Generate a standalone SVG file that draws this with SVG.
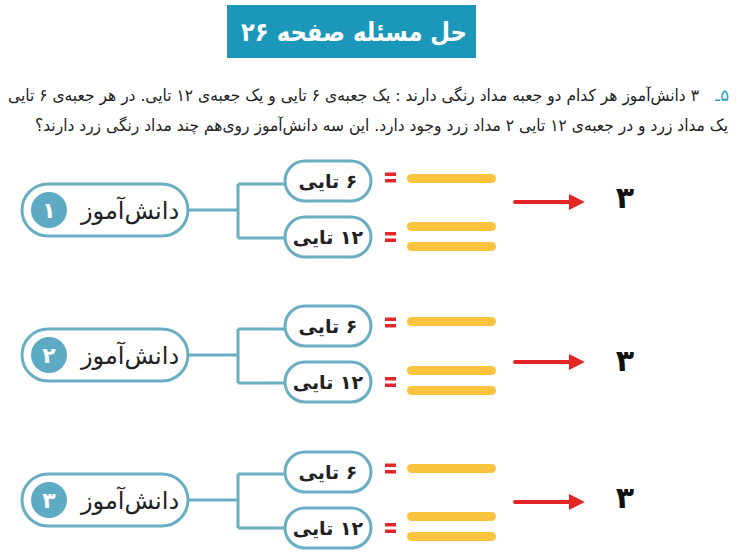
<svg xmlns="http://www.w3.org/2000/svg" width="740" height="555" viewBox="0 0 740 555">
<defs>
<style>
.fa{font-family:"DejaVu Sans","Noto Sans",sans-serif;}
.pill{fill:#fff;stroke:#6aaec4;stroke-width:3;}
.sub{fill:#fff;stroke:#6aaec4;stroke-width:3;}
.badge{fill:#5ea9c4;}
.badgeT{fill:#fff;font-size:22px;font-weight:bold;text-anchor:middle;}
.pillT{fill:#222;font-size:24px;text-anchor:middle;}
.subT{fill:#222;font-size:19px;font-weight:bold;text-anchor:middle;}
.conn{fill:none;stroke:#6aaec4;stroke-width:3;}
.eq{fill:#e3262b;}
.bar{fill:#f9c33e;}
.arrow{stroke:#e52424;stroke-width:4;stroke-linecap:round;fill:none;}
.ans{fill:#111;font-size:30px;font-weight:bold;text-anchor:middle;}
</style>
<marker id="ah" viewBox="0 0 10 10" refX="2" refY="5" markerWidth="4" markerHeight="4.5" orient="auto" markerUnits="strokeWidth">
<path d="M0,0 L10,5 L0,10 z" fill="#e52424"/>
</marker>
</defs>
<rect width="740" height="555" fill="#fff"/>

<g id="title">
<rect x="227" y="5" width="249" height="53" fill="#1a97b9"/>
<text class="fa" x="354" y="41" fill="#fff" font-size="26" font-weight="bold" text-anchor="middle" direction="rtl" textLength="226" lengthAdjust="spacingAndGlyphs">حل مسئله صفحه ۲۶</text>
</g>

<g id="question" class="fa" font-size="16.5" fill="#222">
<text x="729" y="101" direction="rtl" text-anchor="start" fill="#2a9fc0">۵ـ</text>
<text x="699" y="101" direction="rtl" text-anchor="start" textLength="691" lengthAdjust="spacingAndGlyphs">۳ دانش‌آموز هر کدام دو جعبه مداد رنگی دارند : یک جعبه‌ی ۶ تایی و یک جعبه‌ی ۱۲ تایی. در هر جعبه‌ی ۶ تایی</text>
<text x="728" y="131" direction="rtl" text-anchor="start" textLength="693" lengthAdjust="spacingAndGlyphs">یک مداد زرد و در جعبه‌ی ۱۲ تایی ۲ مداد زرد وجود دارد. این سه دانش‌آموز روی‌هم چند مداد رنگی زرد دارند؟</text>
</g>

<g id="connectors">
<path class="conn" d="M188 210 H238 M238 184 V238 M238 184 H285 M238 238 H285"/>
<path class="conn" d="M188 355 H238 M238 329 V383 M238 329 H285 M238 383 H285"/>
<path class="conn" d="M188 500 H238 M238 474 V528 M238 474 H285 M238 528 H285"/>
<line class="arrow" x1="515" y1="202" x2="572" y2="202" marker-end="url(#ah)"/>
<line class="arrow" x1="515" y1="362" x2="572" y2="362" marker-end="url(#ah)"/>
<line class="arrow" x1="515" y1="502" x2="572" y2="502" marker-end="url(#ah)"/>
</g>

<!-- Block 1 -->
<g id="student1">
<rect class="pill" x="22" y="184" width="166" height="52" rx="26"/>
<circle class="badge" cx="49" cy="210" r="18"/>
<text class="fa badgeT" x="49" y="218">۱</text>
<text class="fa pillT" x="130" y="219" direction="rtl">دانش‌آموز</text>
</g>
<g id="s1-box6">
<rect class="sub" x="285" y="161" width="86" height="40" rx="20"/>
<text class="fa subT" x="328" y="188" direction="rtl">۶ تایی</text>
</g>
<g id="s1-box12">
<rect class="sub" x="285" y="217" width="86" height="40" rx="20"/>
<text class="fa subT" x="328" y="244" direction="rtl">۱۲ تایی</text>
</g>
<g id="s1-eq6"><rect class="eq" x="385" y="172.5" width="11" height="3.5"/><rect class="eq" x="385" y="179" width="11" height="3.5"/></g>
<g id="s1-yellow6"><rect class="bar" x="407" y="174" width="89" height="9" rx="4.5"/></g>
<g id="s1-eq12"><rect class="eq" x="385" y="232" width="11" height="3.5"/><rect class="eq" x="385" y="238.5" width="11" height="3.5"/></g>
<g id="s1-yellow12"><rect class="bar" x="407" y="222" width="89" height="9" rx="4.5"/><rect class="bar" x="407" y="242" width="89" height="9" rx="4.5"/></g>
<g id="s1-answer"><text class="fa ans" x="625" y="208">۳</text></g>

<!-- Block 2 -->
<g id="student2">
<rect class="pill" x="22" y="329" width="166" height="52" rx="26"/>
<circle class="badge" cx="49" cy="355" r="18"/>
<text class="fa badgeT" x="49" y="363">۲</text>
<text class="fa pillT" x="130" y="364" direction="rtl">دانش‌آموز</text>
</g>
<g id="s2-box6">
<rect class="sub" x="285" y="306" width="86" height="40" rx="20"/>
<text class="fa subT" x="328" y="333" direction="rtl">۶ تایی</text>
</g>
<g id="s2-box12">
<rect class="sub" x="285" y="362" width="86" height="40" rx="20"/>
<text class="fa subT" x="328" y="389" direction="rtl">۱۲ تایی</text>
</g>
<g id="s2-eq6"><rect class="eq" x="385" y="317.5" width="11" height="3.5"/><rect class="eq" x="385" y="324" width="11" height="3.5"/></g>
<g id="s2-yellow6"><rect class="bar" x="407" y="317" width="89" height="9" rx="4.5"/></g>
<g id="s2-eq12"><rect class="eq" x="385" y="377" width="11" height="3.5"/><rect class="eq" x="385" y="383.5" width="11" height="3.5"/></g>
<g id="s2-yellow12"><rect class="bar" x="407" y="366" width="89" height="9" rx="4.5"/><rect class="bar" x="407" y="386" width="89" height="9" rx="4.5"/></g>
<g id="s2-answer"><text class="fa ans" x="625" y="371">۳</text></g>

<!-- Block 3 -->
<g id="student3">
<rect class="pill" x="22" y="474" width="166" height="52" rx="26"/>
<circle class="badge" cx="49" cy="500" r="18"/>
<text class="fa badgeT" x="49" y="508">۳</text>
<text class="fa pillT" x="130" y="509" direction="rtl">دانش‌آموز</text>
</g>
<g id="s3-box6">
<rect class="sub" x="285" y="452" width="86" height="40" rx="20"/>
<text class="fa subT" x="328" y="479" direction="rtl">۶ تایی</text>
</g>
<g id="s3-box12">
<rect class="sub" x="285" y="508" width="86" height="40" rx="20"/>
<text class="fa subT" x="328" y="535" direction="rtl">۱۲ تایی</text>
</g>
<g id="s3-eq6"><rect class="eq" x="385" y="463.5" width="11" height="3.5"/><rect class="eq" x="385" y="470" width="11" height="3.5"/></g>
<g id="s3-yellow6"><rect class="bar" x="407" y="464" width="89" height="9" rx="4.5"/></g>
<g id="s3-eq12"><rect class="eq" x="385" y="523" width="11" height="3.5"/><rect class="eq" x="385" y="529.5" width="11" height="3.5"/></g>
<g id="s3-yellow12"><rect class="bar" x="407" y="512" width="89" height="9" rx="4.5"/><rect class="bar" x="407" y="532" width="89" height="9" rx="4.5"/></g>
<g id="s3-answer"><text class="fa ans" x="625" y="508">۳</text></g>
</svg>
